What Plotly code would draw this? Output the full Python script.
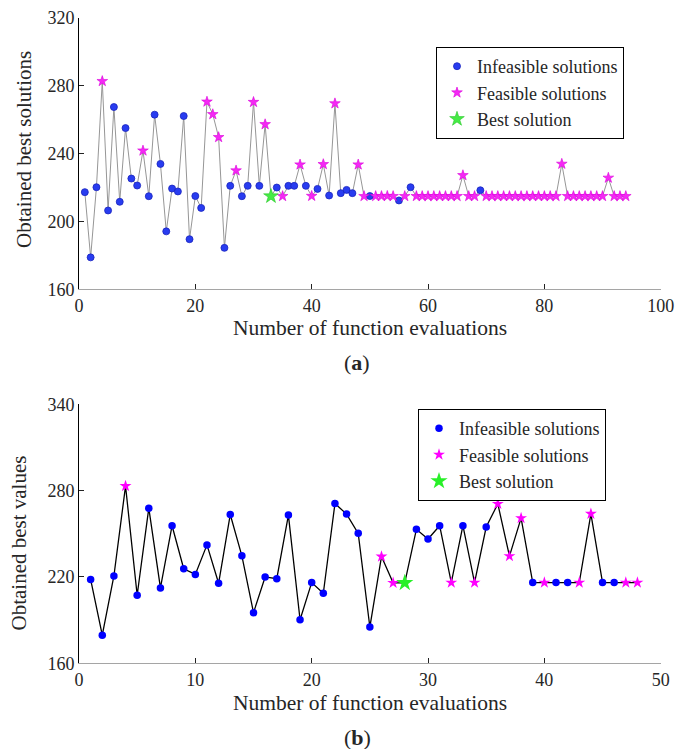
import plotly.graph_objects as go

# ---- Panel (a): 94 function evaluations ----
evals_a = list(range(1, 95))
values_a = [
    217.2, 178.8, 220.1, 282.5, 206.4, 267.3, 211.5, 254.9, 225.2, 221.1,
    241.6, 214.8, 262.8, 233.8, 194.1, 219.3, 217.6, 262.0, 189.5, 214.9,
    207.9, 270.4, 263.0, 249.5, 184.4, 220.9, 229.9, 214.8, 220.9, 270.2,
    220.9, 257.1, 214.8, 219.9, 214.8, 220.9, 220.9, 233.4, 220.9, 214.9,
    219.1, 233.6, 215.2, 269.4, 216.6, 218.5, 216.6, 233.4, 214.8, 214.9,
    214.8, 214.8, 214.9, 214.8, 212.3, 214.8, 220.1, 214.8, 214.8, 214.8,
    214.8, 214.8, 214.8, 214.8, 214.8, 227.1, 214.8, 214.8, 218.3, 214.8,
    214.8, 214.8, 214.8, 214.8, 214.8, 214.8, 214.8, 214.8, 214.8, 214.8,
    214.8, 214.8, 233.8, 214.8, 214.8, 214.8, 214.8, 214.8, 214.8, 214.8,
    225.6, 214.8, 214.8, 214.8,
]
# i = infeasible, f = feasible, b = best
status_a = ("iiifiiiiii" "fiiiiiiiii" "ifffiifiif" "ifbifiifif" "ififiiiffi"
            "ffffififff" "ffffffffif" "ffffffffff" "ffffffffff" "ffff")

# ---- Panel (b): 48 function evaluations ----
evals_b = list(range(1, 49))
values_b = [
    218.3, 179.5, 220.7, 283.2, 207.3, 267.8, 212.4, 255.6, 225.7, 221.8,
    242.3, 215.6, 263.4, 234.7, 195.2, 220.0, 218.8, 263.0, 190.3, 216.1,
    208.7, 271.0, 263.7, 250.3, 185.2, 234.2, 215.9, 215.9, 253.1, 246.4,
    255.6, 216.1, 255.6, 216.1, 254.7, 270.8, 234.5, 260.9, 216.1, 216.1,
    216.1, 216.1, 216.1, 263.9, 216.1, 216.1, 216.1, 216.1,
]
status_b = ("iiifiiiiii" "iiiiiiiiii" "iiiiiffbii" "ififif" "ffif" "iiffiiff")

ticks_a_x = [0, 20, 40, 60, 80, 100]
ticks_a_y = [160, 200, 240, 280, 320]
ticks_b_x = [0, 10, 20, 30, 40, 50]
ticks_b_y = [160, 220, 280, 340]

W, H = 675, 749
FONT = "Liberation Serif, Times New Roman, serif"
TXT = "#262626"


def px_x(p):
    return p / W


def px_y(p):
    return 1 - p / H


def pick(xs, ys, st, code):
    sel = [(x, y) for x, y, s in zip(xs, ys, st) if s == code]
    return [a for a, _ in sel], [b for _, b in sel]


fig = go.Figure()

styles = {
    "a": dict(line=dict(color="rgb(150,150,150)", width=1),
              inf=dict(symbol="circle", size=7, color="rgb(40,60,240)",
                       line=dict(color="rgb(25,35,190)", width=0.8)),
              fea=dict(symbol="star", size=8, color="rgb(245,40,245)",
                       line=dict(color="rgb(220,0,220)", width=0.6)),
              best=dict(symbol="star", size=11, color="rgb(70,235,70)",
                        line=dict(color="rgb(40,200,40)", width=0.6))),
    "b": dict(line=dict(color="black", width=1.3),
              inf=dict(symbol="circle", size=7.5, color="rgb(0,0,255)",
                       line=dict(width=0)),
              fea=dict(symbol="star", size=9, color="rgb(255,0,255)",
                       line=dict(width=0)),
              best=dict(symbol="star", size=13, color="rgb(40,240,40)",
                        line=dict(width=0))),
}

panels = [
    ("a", evals_a, values_a, status_a, "x", "y", "legend"),
    ("b", evals_b, values_b, status_b, "x2", "y2", "legend2"),
]

for key, xs, ys, st, xa, ya, lg in panels:
    s = styles[key]
    fig.add_trace(go.Scatter(x=xs, y=ys, mode="lines", line=s["line"],
                             xaxis=xa, yaxis=ya, showlegend=False,
                             hoverinfo="skip"))
    for code, name, mk in [("i", "Infeasible solutions", s["inf"]),
                           ("f", "Feasible solutions", s["fea"]),
                           ("b", "Best solution", s["best"])]:
        px, py = pick(xs, ys, st, code)
        fig.add_trace(go.Scatter(x=px, y=py, mode="markers", name=name,
                                 marker=mk, xaxis=xa, yaxis=ya, legend=lg))

x_dom = [px_x(79), px_x(660.7)]
axis_common = dict(ticks="inside", ticklen=5, tickwidth=1, tickcolor="#222",
                   showgrid=False, zeroline=False, showline=True,
                   automargin=False,
                   tickfont=dict(family=FONT, size=18, color=TXT))

fig.update_layout(
    template="none",
    width=W, height=H,
    margin=dict(l=0, r=0, t=0, b=0, autoexpand=False),
    paper_bgcolor="white", plot_bgcolor="white",
    font=dict(family=FONT, color=TXT),
    xaxis=dict(domain=x_dom, range=[0, 100], tickvals=ticks_a_x,
               linecolor="rgb(165,165,165)", anchor="y", **axis_common),
    yaxis=dict(domain=[px_y(289.3), px_y(17.5)], range=[160, 320],
               tickvals=ticks_a_y, linecolor="black", anchor="x",
               **axis_common),
    xaxis2=dict(domain=x_dom, range=[0, 50], tickvals=ticks_b_x,
                linecolor="rgb(165,165,165)", anchor="y2", **axis_common),
    yaxis2=dict(domain=[px_y(663.3), px_y(404.3)], range=[160, 340],
                tickvals=ticks_b_y, linecolor="black", anchor="x2",
                **axis_common),
    legend=dict(x=px_x(436), y=px_y(47), xanchor="left", yanchor="top",
                bordercolor="black", borderwidth=1, bgcolor="white",
                font=dict(family=FONT, size=18, color=TXT)),
    legend2=dict(x=px_x(418), y=px_y(409), xanchor="left", yanchor="top",
                 bordercolor="black", borderwidth=1, bgcolor="white",
                 font=dict(family=FONT, size=18, color=TXT)),
)

labels = [
    ("Obtained best solutions", 24, 150, 21, -90),
    ("Number of function evaluations", 370, 328, 21.5, 0),
    ("(<b>a</b>)", 357, 362, 22, 0),
    ("Obtained best values", 18.5, 543, 21, -90),
    ("Number of function evaluations", 370, 703, 21.5, 0),
    ("(<b>b</b>)", 357, 737, 22, 0),
]
for text, x, y, size, ang in labels:
    fig.add_annotation(text=text, x=px_x(x), y=px_y(y), xref="paper",
                       yref="paper", showarrow=False, textangle=ang,
                       xanchor="center", yanchor="middle",
                       font=dict(family=FONT, size=size, color=TXT))

fig.write_html("out.html")
